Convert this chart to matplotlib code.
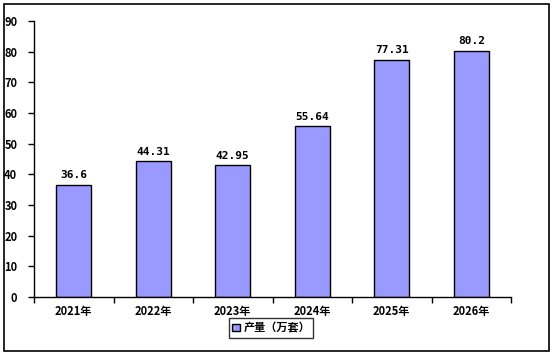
import matplotlib.pyplot as plt
from matplotlib.patches import Rectangle

plt.rcParams['font.family'] = ['Noto Sans CJK SC', 'DejaVu Sans']

years = ["2021年", "2022年", "2023年", "2024年", "2025年", "2026年"]
output = [36.6, 44.31, 42.95, 55.64, 77.31, 80.2]
label_texts = ["36.6", "44.31", "42.95", "55.64", "77.31", "80.2"]
series_name = "产量（万套）"


def main():
    fig = plt.figure(figsize=(5.54, 3.55), dpi=100)
    ax = fig.add_axes([0.0614, 0.1634, 0.861, 0.7774])

    x = range(len(years))
    bars = ax.bar(x, output, width=0.44, color='#9999FF', edgecolor='black',
                  linewidth=1, label=series_name)
    for b, t in zip(bars, label_texts):
        ax.text(b.get_x() + b.get_width() / 2, b.get_height() + 1.5, t,
                ha='center', va='bottom', fontsize=8, fontweight='bold',
                family='DejaVu Sans Mono')

    ax.set_xlim(-0.5, len(years) - 0.5)
    ax.set_ylim(0, 90)
    ax.set_yticks(range(0, 91, 10))
    ax.set_xticks(list(x))
    ax.set_xticklabels(years, fontsize=8, fontweight='bold')
    ax.set_xticks([i - 0.5 for i in range(len(years) + 1)], minor=True)
    ax.tick_params(axis='x', which='major', length=0, pad=6)
    ax.tick_params(axis='x', which='minor', length=4, width=1, direction='out')
    ax.tick_params(axis='y', length=4, width=1, labelsize=8, pad=8)
    for lbl in ax.get_yticklabels():
        lbl.set_fontweight('bold')

    ax.spines['top'].set_visible(False)
    ax.spines['right'].set_visible(False)
    ax.spines['left'].set_linewidth(1)
    ax.spines['bottom'].set_linewidth(1)

    leg = ax.legend(loc='center', bbox_to_anchor=(0.497, -0.112), frameon=True,
                    fancybox=False, edgecolor='black', handlelength=0.7,
                    handleheight=0.7, handletextpad=0.3, borderpad=0.3,
                    prop={'size': 8, 'weight': 'bold'})
    leg.get_frame().set_linewidth(1)

    fig.patches.append(Rectangle((0.0072, 0.0113), 0.9838, 0.9775,
                                 transform=fig.transFigure, fill=False,
                                 edgecolor='black', linewidth=1.2))
    fig.savefig("out.png", dpi=100)


if __name__ == "__main__":
    main()
